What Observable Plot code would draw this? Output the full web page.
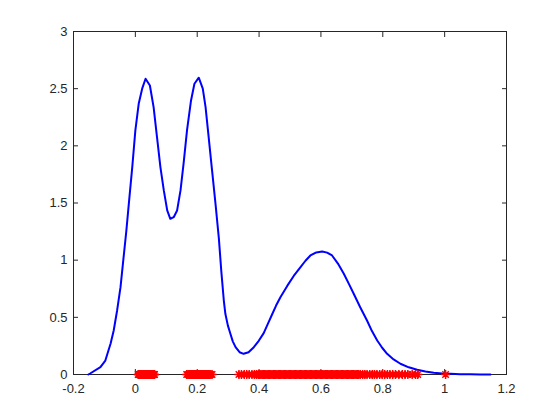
<!DOCTYPE html>
<html>
<head>
<meta charset="utf-8">
<script src="https://cdn.jsdelivr.net/npm/d3@7"></script>
<script src="https://cdn.jsdelivr.net/npm/@observablehq/plot@0.6"></script>
<style>
  html, body { margin: 0; padding: 0; background: #fff; }
</style>
</head>
<body>
<div id="chart"></div>
<script>
// Density curve (x, y)
const kdeX = [-0.152, -0.145, -0.113, -0.097, -0.080, -0.070, -0.059, -0.048, -0.038, -0.029,
  -0.021, -0.010, 0.000, 0.011, 0.022, 0.033, 0.047, 0.059, 0.070, 0.081,
  0.092, 0.103, 0.113, 0.124, 0.135, 0.146, 0.156, 0.167, 0.180, 0.191,
  0.205, 0.218, 0.227, 0.237, 0.248, 0.259, 0.270, 0.278, 0.286, 0.291,
  0.299, 0.307, 0.315, 0.324, 0.337, 0.350, 0.366, 0.383, 0.399, 0.415,
  0.428, 0.442, 0.455, 0.469, 0.491, 0.512, 0.534, 0.550, 0.566, 0.585,
  0.604, 0.620, 0.636, 0.655, 0.674, 0.690, 0.706, 0.727, 0.749, 0.765,
  0.782, 0.798, 0.814, 0.835, 0.857, 0.884, 0.911, 0.938, 0.965, 0.992,
  1.019, 1.050, 1.083, 1.115, 1.148];
const kdeY = [0.000, 0.011, 0.064, 0.122, 0.271, 0.385, 0.560, 0.764, 1.026, 1.260,
  1.496, 1.814, 2.135, 2.371, 2.500, 2.587, 2.528, 2.339, 2.076, 1.814,
  1.610, 1.435, 1.362, 1.376, 1.435, 1.610, 1.846, 2.135, 2.397, 2.543,
  2.596, 2.500, 2.339, 2.076, 1.785, 1.496, 1.190, 0.900, 0.647, 0.531,
  0.430, 0.359, 0.290, 0.239, 0.195, 0.181, 0.195, 0.239, 0.295, 0.362,
  0.440, 0.525, 0.603, 0.676, 0.775, 0.862, 0.939, 0.995, 1.041, 1.068,
  1.076, 1.066, 1.041, 0.970, 0.881, 0.795, 0.706, 0.588, 0.472, 0.380,
  0.297, 0.234, 0.181, 0.132, 0.094, 0.063, 0.041, 0.026, 0.015, 0.009,
  0.006, 0.003, 0.002, 0.001, 0.000];

// Sample points (red asterisks on the x axis)
const cluster1 = [0.009, 0.011, 0.013, 0.015, 0.017, 0.019, 0.021, 0.023, 0.025, 0.027,
  0.029, 0.031, 0.033, 0.035, 0.037, 0.039, 0.041, 0.043, 0.045, 0.047,
  0.049, 0.051, 0.053, 0.055, 0.057, 0.059, 0.061, 0.062];
const cluster2 = [0.166, 0.170, 0.173, 0.176, 0.178, 0.180, 0.182, 0.184, 0.186, 0.188,
  0.190, 0.192, 0.194, 0.196, 0.198, 0.200, 0.202, 0.204, 0.206, 0.208,
  0.210, 0.212, 0.214, 0.216, 0.218, 0.220, 0.222, 0.224, 0.226, 0.228,
  0.230, 0.233, 0.236, 0.240, 0.244, 0.248];
const cluster3 = [0.335, 0.343, 0.352, 0.360, 0.368, 0.377, 0.385, 0.392, 0.398, 0.402,
  0.406, 0.410, 0.414, 0.418, 0.422, 0.426, 0.430, 0.434, 0.438, 0.442,
  0.446, 0.450, 0.454, 0.458, 0.462, 0.466, 0.470, 0.474, 0.478, 0.482,
  0.486, 0.490, 0.494, 0.498, 0.502, 0.506, 0.510, 0.514, 0.518, 0.522,
  0.526, 0.530, 0.534, 0.538, 0.542, 0.546, 0.550, 0.554, 0.558, 0.562,
  0.566, 0.570, 0.574, 0.578, 0.582, 0.586, 0.590, 0.594, 0.598, 0.602,
  0.606, 0.610, 0.614, 0.618, 0.622, 0.626, 0.630, 0.634, 0.638, 0.642,
  0.646, 0.650, 0.654, 0.658, 0.662, 0.666, 0.670, 0.674, 0.678, 0.682,
  0.686, 0.690, 0.694, 0.698, 0.702, 0.706, 0.710, 0.714, 0.718, 0.722,
  0.727, 0.735, 0.742, 0.749, 0.758, 0.766, 0.773, 0.781, 0.790, 0.798,
  0.806, 0.815, 0.823, 0.832, 0.841, 0.852, 0.863, 0.872, 0.881, 0.895,
  0.906, 0.913];
const outliers = [1.003];

const xTicks = [-0.2, 0, 0.2, 0.4, 0.6, 0.8, 1, 1.2];
const xTickLabels = ["-0.2", "0", "0.2", "0.4", "0.6", "0.8", "1", "1.2"];
const yTicks = [0, 0.5, 1, 1.5, 2, 2.5, 3];
const yTickLabels = ["0", "0.5", "1", "1.5", "2", "2.5", "3"];

const curve = kdeX.map((x, i) => ({x, y: kdeY[i]}));
const samples = [...cluster1, ...cluster2, ...cluster3, ...outliers].map(x => ({x, y: 0}));

const asterisk = {
  draw(context, size) {
    const r = Math.sqrt(size / Math.PI);
    const d = r * 0.72;
    context.moveTo(-r, 0); context.lineTo(r, 0);
    context.moveTo(0, -r); context.lineTo(0, r);
    context.moveTo(-d, -d); context.lineTo(d, d);
    context.moveTo(-d, d); context.lineTo(d, -d);
  }
};

const axisColor = "#262626";
const xLab = new Map(xTicks.map((t, i) => [t, xTickLabels[i]]));
const yLab = new Map(yTicks.map((t, i) => [t, yTickLabels[i]]));

const chart = Plot.plot({
  width: 560,
  height: 420,
  marginLeft: 73,
  marginRight: 54,
  marginTop: 31,
  marginBottom: 46,
  style: {fontFamily: "'Liberation Sans', Arial, sans-serif", fontSize: "13px", color: axisColor, background: "#fff"},
  x: {domain: [-0.2, 1.2]},
  y: {domain: [0, 3]},
  marks: [
    Plot.axisX(xTicks, {anchor: "bottom", tickSize: -5, fill: "none", stroke: axisColor}),
    Plot.axisX(xTicks, {anchor: "top", tickSize: -5, fill: "none", stroke: axisColor}),
    Plot.axisY(yTicks, {anchor: "left", tickSize: -5, fill: "none", stroke: axisColor}),
    Plot.axisY(yTicks, {anchor: "right", tickSize: -5, fill: "none", stroke: axisColor}),
    Plot.axisX(xTicks, {anchor: "bottom", tickSize: 0, tickPadding: 9, tickFormat: d => xLab.get(d), fill: axisColor, label: null}),
    Plot.axisY(yTicks, {anchor: "left", tickSize: 0, tickPadding: 6, tickFormat: d => yLab.get(d), fill: axisColor, label: null}),
    Plot.frame({stroke: axisColor, strokeWidth: 1}),
    Plot.line(curve, {x: "x", y: "y", stroke: "#0000ff", strokeWidth: 2}),
    Plot.dot(samples, {x: "x", y: "y", symbol: asterisk, r: 4.5, stroke: "#ff0000", fill: "none", strokeWidth: 1.5})
  ]
});
document.getElementById("chart").append(chart);
</script>
</body>
</html>
